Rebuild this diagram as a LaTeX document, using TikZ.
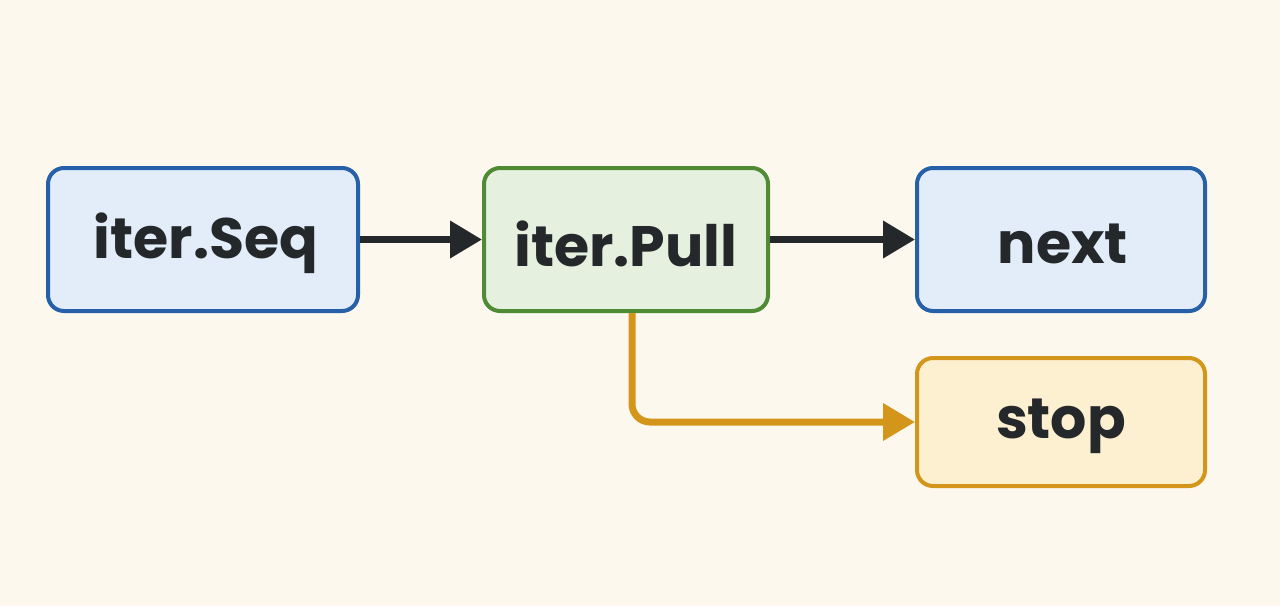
\documentclass[tikz,border=0pt]{standalone}
\usepackage{fontspec}
\setmainfont{Poppins}
\usetikzlibrary{arrows.meta}
\definecolor{bg}{HTML}{FDF8EE}
\definecolor{bluef}{HTML}{E3EDF9}\definecolor{blued}{HTML}{2560A8}
\definecolor{greenf}{HTML}{E5F0DF}\definecolor{greend}{HTML}{4F8A35}
\definecolor{orf}{HTML}{FDF0D0}\definecolor{ord}{HTML}{D4961A}
\definecolor{ink}{HTML}{25282B}
\begin{document}
\begin{tikzpicture}[x=1pt,y=-1pt,
 box/.style={draw,line width=4pt,rounded corners=16pt,inner sep=0pt,font=\fontsize{57}{60}\selectfont\bfseries,text=ink},
 lbl/.style={font=\fontsize{57}{60}\selectfont\bfseries,text=ink,inner sep=0pt},
 arr/.style={line width=7pt,-{Triangle[length=32pt,width=36pt]}}]
\fill[bg] (0,0) rectangle (1280,606);
\node[box,fill=bluef,draw=blued,minimum width=310pt,minimum height=143pt] (seq) at (203,239.5) {};
\node[box,fill=greenf,draw=greend,minimum width=284pt,minimum height=143pt] (pull) at (626,239.5) {};
\node[box,fill=bluef,draw=blued,minimum width=288pt,minimum height=143pt] (next) at (1061,239.5) {};
\node[box,fill=orf,draw=ord,minimum width=288pt,minimum height=128pt] (stop) at (1061,422) {};
\node[lbl] (tseq) at (206,243.5) {iter.Seq};
\node[lbl] (tpull) at (626,243.5) {iter.Pull};
\node[lbl] (tnext) at (1063,243.5) {next};
\node[lbl] (tstop) at (1061,426) {stop};
\draw[arr,ink] (seq) -- (pull);
\draw[arr,ink] (pull) -- (next);
\draw[arr,ord,rounded corners=18pt] (pull.south -| 632,0) -- (632,422) -- (stop.west);
\end{tikzpicture}
\end{document}
